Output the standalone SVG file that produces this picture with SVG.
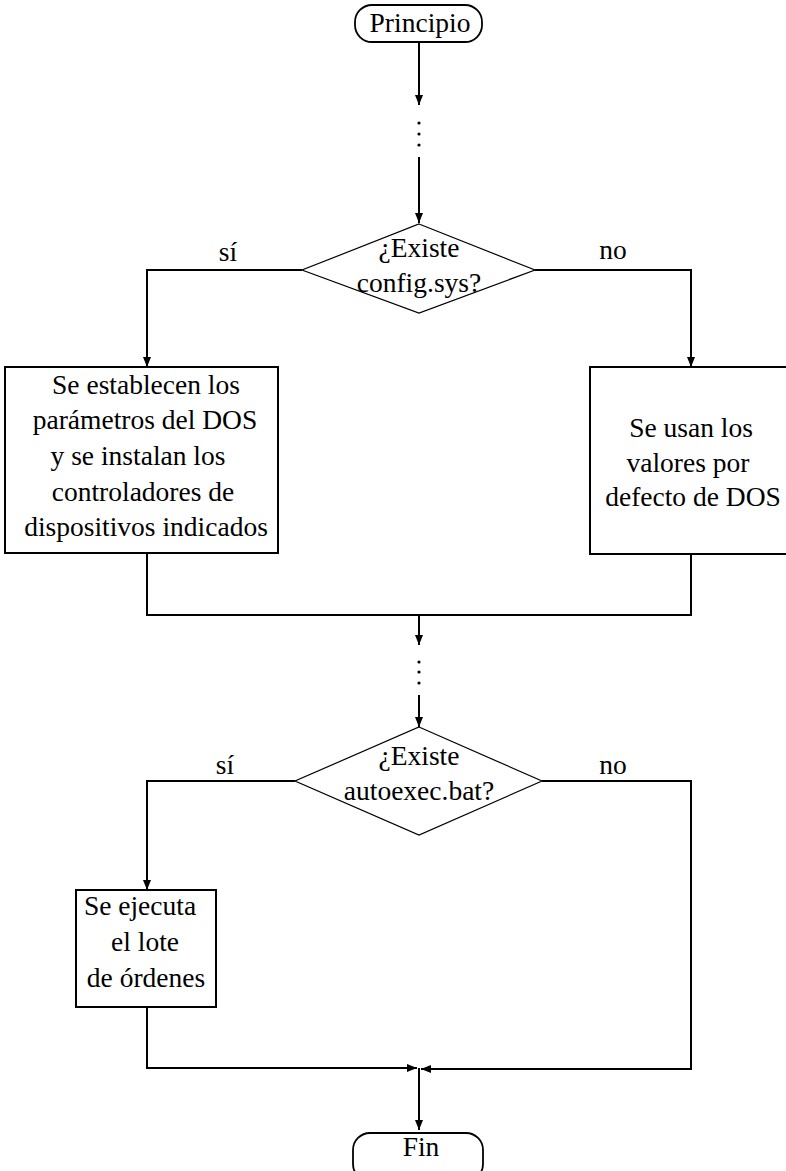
<svg xmlns="http://www.w3.org/2000/svg" width="786" height="1171" viewBox="0 0 786 1171">
<defs>
<marker id="arr" viewBox="0 0 10 8" refX="10" refY="4" markerWidth="10" markerHeight="8" markerUnits="userSpaceOnUse" orient="auto">
<path d="M0,0 L10,4 L0,8 Z" fill="#000"/>
</marker>
<style>
text{font-family:"Liberation Serif","Times New Roman",serif;font-size:27.5px;fill:#000;text-anchor:middle}
.box{fill:#fff;stroke:#000;stroke-width:2}
.dia{fill:#fff;stroke:#000;stroke-width:1.2}
.term{fill:#fff;stroke:#000;stroke-width:1.8}
.con{fill:none;stroke:#000;stroke-width:2}
.dot{fill:#000}
</style>
</defs>
<rect width="786" height="1171" fill="#fff"/>
<g id="connectors">
<path class="con" d="M419,42 V105" marker-end="url(#arr)"/>
<circle class="dot" cx="419" cy="123" r="1.6"/>
<circle class="dot" cx="419" cy="134" r="1.6"/>
<circle class="dot" cx="419" cy="145" r="1.6"/>
<path class="con" d="M419,157 V223" marker-end="url(#arr)"/>
<path class="con" d="M302,270 H147 V367" marker-end="url(#arr)"/>
<path class="con" d="M535,270 H691 V367" marker-end="url(#arr)"/>
<path class="con" d="M147,553 V615 H691 V554"/>
<path class="con" d="M419,615 V645" marker-end="url(#arr)"/>
<circle class="dot" cx="419" cy="662" r="1.6"/>
<circle class="dot" cx="419" cy="672" r="1.6"/>
<circle class="dot" cx="419" cy="683" r="1.6"/>
<path class="con" d="M419,695 V727" marker-end="url(#arr)"/>
<path class="con" d="M295,781 H147 V890" marker-end="url(#arr)"/>
<path class="con" d="M542,781 H691 V1069 H421" marker-end="url(#arr)"/>
<path class="con" d="M147,1007 V1068 H417" marker-end="url(#arr)"/>
<path class="con" d="M419,1068 V1130" marker-end="url(#arr)"/>
<text x="228" y="261">sí</text>
<text x="613" y="259">no</text>
<text x="225" y="774">sí</text>
<text x="613" y="774">no</text>
</g>
<g id="start">
<rect class="term" x="355" y="5" width="127" height="37" rx="17" ry="17"/>
<text x="420" y="32">Principio</text>
</g>
<g id="decision1">
<polygon class="dia" points="419,224 535,270 419,313 302,270"/>
<text x="419" y="257">¿Existe</text>
<text x="419" y="292">config.sys?</text>
</g>
<g id="box-yes1">
<rect class="box" x="5" y="367" width="273" height="186"/>
<text x="146" y="394">Se establecen los</text>
<text x="145" y="429">parámetros del DOS</text>
<text x="138" y="465">y se instalan los</text>
<text x="143" y="501">controladores de</text>
<text x="146" y="536">dispositivos indicados</text>
</g>
<g id="box-no1">
<rect class="box" x="590" y="367" width="200" height="187"/>
<text x="691" y="437">Se usan los</text>
<text x="688" y="472">valores por</text>
<text x="693" y="506">defecto de DOS</text>
</g>
<g id="decision2">
<polygon class="dia" points="419,727 542,781 419,835 295,781"/>
<text x="419" y="765">¿Existe</text>
<text x="419" y="800">autoexec.bat?</text>
</g>
<g id="box-yes2">
<rect class="box" x="76" y="890" width="140" height="117"/>
<text x="140" y="915">Se ejecuta</text>
<text x="145" y="951">el lote</text>
<text x="146" y="987">de órdenes</text>
</g>
<g id="end">
<rect class="term" x="353" y="1133" width="130" height="48" rx="17" ry="17"/>
<text x="421" y="1156">Fin</text>
</g>
</svg>
